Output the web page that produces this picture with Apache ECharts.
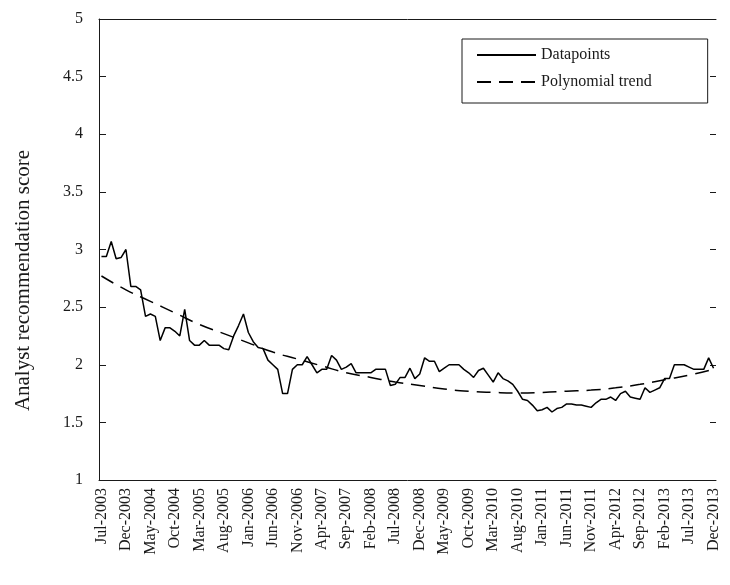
<!DOCTYPE html>
<html>
<head>
<meta charset="utf-8">
<script src="https://cdn.jsdelivr.net/npm/echarts@6/dist/echarts.min.js"></script>
<style>
html,body{margin:0;padding:0;background:#fff;}
#chart{width:730px;height:585px;}
</style>
</head>
<body>
<div id="chart"></div>
<script>
const categories = [
"Jul-2003","Aug-2003","Sep-2003","Oct-2003","Nov-2003","Dec-2003",
"Jan-2004","Feb-2004","Mar-2004","Apr-2004","May-2004","Jun-2004","Jul-2004","Aug-2004","Sep-2004","Oct-2004","Nov-2004","Dec-2004",
"Jan-2005","Feb-2005","Mar-2005","Apr-2005","May-2005","Jun-2005","Jul-2005","Aug-2005","Sep-2005","Oct-2005","Nov-2005","Dec-2005",
"Jan-2006","Feb-2006","Mar-2006","Apr-2006","May-2006","Jun-2006","Jul-2006","Aug-2006","Sep-2006","Oct-2006","Nov-2006","Dec-2006",
"Jan-2007","Feb-2007","Mar-2007","Apr-2007","May-2007","Jun-2007","Jul-2007","Aug-2007","Sep-2007","Oct-2007","Nov-2007","Dec-2007",
"Jan-2008","Feb-2008","Mar-2008","Apr-2008","May-2008","Jun-2008","Jul-2008","Aug-2008","Sep-2008","Oct-2008","Nov-2008","Dec-2008",
"Jan-2009","Feb-2009","Mar-2009","Apr-2009","May-2009","Jun-2009","Jul-2009","Aug-2009","Sep-2009","Oct-2009","Nov-2009","Dec-2009",
"Jan-2010","Feb-2010","Mar-2010","Apr-2010","May-2010","Jun-2010","Jul-2010","Aug-2010","Sep-2010","Oct-2010","Nov-2010","Dec-2010",
"Jan-2011","Feb-2011","Mar-2011","Apr-2011","May-2011","Jun-2011","Jul-2011","Aug-2011","Sep-2011","Oct-2011","Nov-2011","Dec-2011",
"Jan-2012","Feb-2012","Mar-2012","Apr-2012","May-2012","Jun-2012","Jul-2012","Aug-2012","Sep-2012","Oct-2012","Nov-2012","Dec-2012",
"Jan-2013","Feb-2013","Mar-2013","Apr-2013","May-2013","Jun-2013","Jul-2013","Aug-2013","Sep-2013","Oct-2013","Nov-2013","Dec-2013"
];

const scores = [
2.94, 2.94, 3.07, 2.92, 2.93, 3.00, 2.68, 2.68, 2.65, 2.42,
2.44, 2.42, 2.21, 2.32, 2.32, 2.29, 2.25, 2.48, 2.21, 2.17,
2.17, 2.21, 2.17, 2.17, 2.17, 2.14, 2.13, 2.25, 2.34, 2.44,
2.28, 2.20, 2.15, 2.14, 2.04, 2.00, 1.96, 1.75, 1.75, 1.96,
2.00, 2.00, 2.07, 2.00, 1.93, 1.96, 1.96, 2.08, 2.04, 1.96,
1.98, 2.01, 1.93, 1.93, 1.93, 1.93, 1.96, 1.96, 1.96, 1.82,
1.83, 1.89, 1.89, 1.97, 1.88, 1.92, 2.06, 2.03, 2.03, 1.94,
1.97, 2.00, 2.00, 2.00, 1.96, 1.93, 1.89, 1.95, 1.97, 1.91,
1.85, 1.93, 1.88, 1.86, 1.83, 1.77, 1.70, 1.69, 1.65, 1.60,
1.61, 1.63, 1.59, 1.62, 1.63, 1.66, 1.66, 1.65, 1.65, 1.64,
1.63, 1.67, 1.70, 1.70, 1.72, 1.69, 1.75, 1.77, 1.72, 1.71,
1.70, 1.80, 1.76, 1.78, 1.80, 1.88, 1.88, 2.00, 2.00, 2.00,
1.98, 1.96, 1.96, 1.96, 2.06, 1.97
];

// polynomial trend every 5 months (Jul-2003, Dec-2003, ... Dec-2013)
const trendMonths = ["Jul-2003","Dec-2003","May-2004","Oct-2004","Mar-2005","Aug-2005","Jan-2006","Jun-2006","Nov-2006","Apr-2007","Sep-2007","Feb-2008","Jul-2008","Dec-2008","May-2009","Oct-2009","Mar-2010","Aug-2010","Jan-2011","Jun-2011","Nov-2011","Apr-2012","Sep-2012","Feb-2013","Jul-2013","Dec-2013"];
const trendValues = [2.77, 2.65, 2.55, 2.45, 2.35, 2.27, 2.19, 2.11, 2.05, 1.99, 1.93, 1.89, 1.85, 1.82, 1.79, 1.77, 1.76, 1.755, 1.76, 1.77, 1.78, 1.80, 1.83, 1.87, 1.91, 1.96];

const yTicks = {min: 1, max: 5, interval: 0.5};

const FONT = '"Liberation Serif", "Times New Roman", serif';
const INK = '#1a1a1a';

const chart = echarts.init(document.getElementById('chart'), null, {renderer: 'canvas'});
chart.setOption({
  animation: false,
  backgroundColor: '#fff',
  textStyle: {fontFamily: FONT, color: INK},
  grid: {left: 99, right: 14, top: 19, bottom: 105, outerBoundsMode: 'none', containLabel: false},
  legend: {
    data: ['Datapoints', 'Polynomial trend'],
    orient: 'vertical',
    left: 462, top: 39,
    itemWidth: 59, itemHeight: 14, itemGap: 11,
    padding: [8, 56, 13, 14],
    borderColor: INK, borderWidth: 1,
    itemStyle: {color: 'rgba(0,0,0,0)', borderColor: 'rgba(0,0,0,0)', borderWidth: 0},
    textStyle: {fontFamily: FONT, fontSize: 16, color: INK}
  },
  xAxis: [{
    type: 'category',
    data: categories,
    boundaryGap: true,
    axisLine: {lineStyle: {color: INK, width: 1}},
    axisTick: {inside: true, length: 7, interval: 4, alignWithLabel: true, lineStyle: {color: INK}},
    axisLabel: {interval: 4, rotate: 90, fontSize: 16, fontFamily: FONT, color: INK, margin: 8},
    splitLine: {show: false}
  }, {
    type: 'category',
    data: categories,
    boundaryGap: true,
    position: 'top',
    axisLine: {show: true, lineStyle: {color: INK, width: 1}},
    axisTick: {show: false},
    axisLabel: {show: false},
    splitLine: {show: false}
  }],
  yAxis: [{
    type: 'value',
    min: yTicks.min, max: yTicks.max, interval: yTicks.interval,
    name: 'Analyst recommendation score',
    nameLocation: 'middle', nameRotate: 90, nameGap: 65,
    nameTextStyle: {fontSize: 21, fontFamily: FONT, color: INK, padding: [0, 62, 0, 0]},
    axisLine: {show: true, lineStyle: {color: INK, width: 1}},
    axisTick: {show: true, inside: true, length: 7, lineStyle: {color: INK}},
    axisLabel: {fontSize: 16, fontFamily: FONT, color: INK, margin: 16},
    splitLine: {show: false}
  }, {
    type: 'value',
    position: 'right',
    min: yTicks.min, max: yTicks.max, interval: yTicks.interval,
    axisLine: {show: false},
    axisTick: {show: true, inside: true, length: 6, lineStyle: {color: INK}},
    axisLabel: {show: false},
    splitLine: {show: false}
  }],
  series: [{
    name: 'Datapoints',
    type: 'line',
    data: scores,
    symbol: 'none',
    lineStyle: {color: '#000', width: 1.5}
  }, {
    name: 'Polynomial trend',
    type: 'line',
    data: trendMonths.map((m, k) => [m, trendValues[k]]),
    smooth: true,
    symbol: 'none',
    lineStyle: {color: '#000', width: 1.5, type: [14, 8]}
  }]
});
</script>
</body>
</html>
